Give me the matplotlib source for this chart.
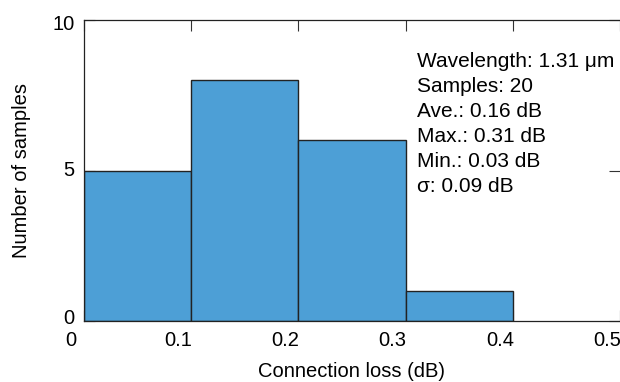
import matplotlib
matplotlib.use("Agg")
import matplotlib.pyplot as plt
import matplotlib.transforms as mtransforms

plt.rcParams['font.family'] = ['Liberation Sans', 'DejaVu Sans']

bin_edges = [0.0, 0.1, 0.2, 0.3, 0.4]
counts = [5, 8, 6, 1]
x_ticks = [0, 0.1, 0.2, 0.3, 0.4, 0.5]
x_ticklabels = ['0', '0.1', '0.2', '0.3', '0.4', '0.5']
y_ticks = [0, 5, 10]
y_ticklabels = ['0', '5', '10']
stats_lines = ['Wavelength: 1.31 μm', 'Samples: 20', 'Ave.: 0.16 dB',
               'Max.: 0.31 dB', 'Min.: 0.03 dB', 'σ: 0.09 dB']

fig = plt.figure(figsize=(6.2, 3.82), dpi=100)
ax = fig.add_axes([84/620, 1 - 321/382, 536/620, 301/382])

lefts = bin_edges[:-1]
widths = [bin_edges[i+1] - bin_edges[i] for i in range(len(counts))]
ax.bar(lefts, counts, width=widths, align='edge', color='#4d9fd6',
       edgecolor='#222222', linewidth=1.0, zorder=2)

ax.set_xlim(0, 0.5)
ax.set_ylim(0, 10)
ax.set_xticks(x_ticks)
ax.set_xticklabels(x_ticklabels)
ax.set_yticks(y_ticks)
ax.set_yticklabels(y_ticklabels)
ax.tick_params(direction='in', length=8, width=0.8, color='#333333',
               top=True, right=True, labelsize=14.5, pad=7)
for sp in ax.spines.values():
    sp.set_linewidth(0.9)
    sp.set_color('#222222')
ax.spines['right'].set_visible(False)

off = mtransforms.ScaledTranslation(-13/100, 0, fig.dpi_scale_trans)
for lab in ax.get_xticklabels():
    lab.set_transform(lab.get_transform() + off)
y_offsets_px = [5, 2, -2]
for lab, dy in zip(ax.get_yticklabels(), y_offsets_px):
    lab.set_transform(lab.get_transform() +
                      mtransforms.ScaledTranslation(0, dy/100, fig.dpi_scale_trans))

ax.set_xlabel('Connection loss (dB)', fontsize=14.5, labelpad=9)
ax.set_ylabel('Number of samples', fontsize=14.5, labelpad=15)

ax.text(417/620, 1 - 52/382, '\n'.join(stats_lines), transform=fig.transFigure,
        fontsize=15, va='top', ha='left', linespacing=1.40)

fig.savefig('out.png', dpi=100)
